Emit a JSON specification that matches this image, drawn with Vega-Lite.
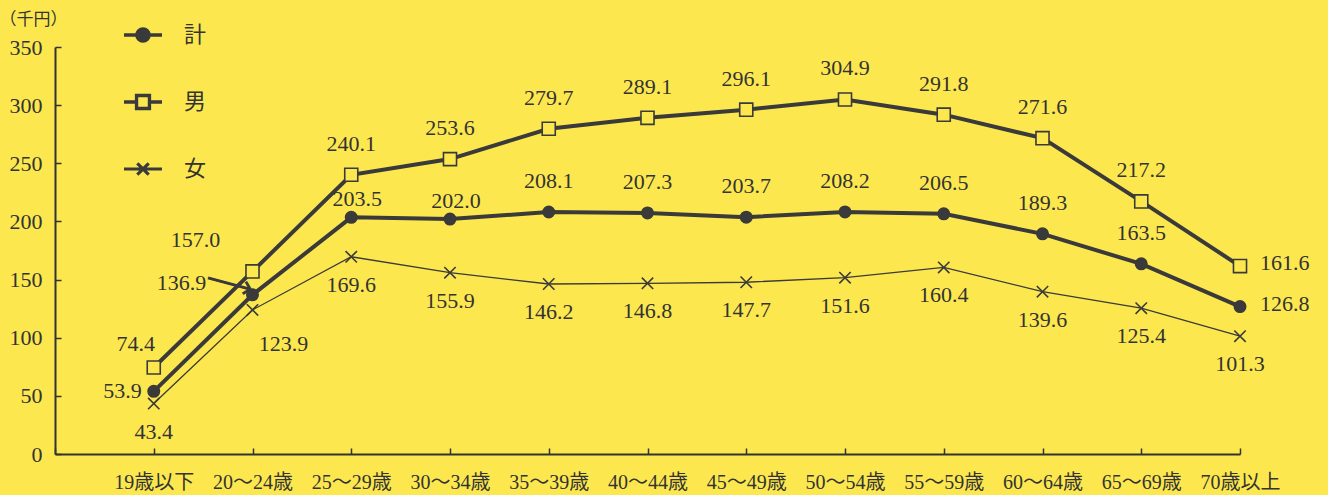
{
  "$schema": "https://vega.github.io/schema/vega-lite/v6.json",
  "width": 1185,
  "height": 407,
  "autosize": {"type": "none"},
  "padding": {"left": 55, "top": 47, "right": 88, "bottom": 41},
  "background": "#FCE84E",
  "config": {
    "view": {"stroke": null},
    "font": "Liberation Serif, Noto Sans CJK JP",
    "text": {"font": "Liberation Serif", "fontSize": 22, "color": "#333333", "baseline": "middle"}
  },
  "datasets": {
    "wages": [
      {"age": "19歳以下", "series": "計", "value": 53.9},
      {"age": "20～24歳", "series": "計", "value": 136.9},
      {"age": "25～29歳", "series": "計", "value": 203.5},
      {"age": "30～34歳", "series": "計", "value": 202.0},
      {"age": "35～39歳", "series": "計", "value": 208.1},
      {"age": "40～44歳", "series": "計", "value": 207.3},
      {"age": "45～49歳", "series": "計", "value": 203.7},
      {"age": "50～54歳", "series": "計", "value": 208.2},
      {"age": "55～59歳", "series": "計", "value": 206.5},
      {"age": "60～64歳", "series": "計", "value": 189.3},
      {"age": "65～69歳", "series": "計", "value": 163.5},
      {"age": "70歳以上", "series": "計", "value": 126.8},
      {"age": "19歳以下", "series": "男", "value": 74.4},
      {"age": "20～24歳", "series": "男", "value": 157.0},
      {"age": "25～29歳", "series": "男", "value": 240.1},
      {"age": "30～34歳", "series": "男", "value": 253.6},
      {"age": "35～39歳", "series": "男", "value": 279.7},
      {"age": "40～44歳", "series": "男", "value": 289.1},
      {"age": "45～49歳", "series": "男", "value": 296.1},
      {"age": "50～54歳", "series": "男", "value": 304.9},
      {"age": "55～59歳", "series": "男", "value": 291.8},
      {"age": "60～64歳", "series": "男", "value": 271.6},
      {"age": "65～69歳", "series": "男", "value": 217.2},
      {"age": "70歳以上", "series": "男", "value": 161.6},
      {"age": "19歳以下", "series": "女", "value": 43.4},
      {"age": "20～24歳", "series": "女", "value": 123.9},
      {"age": "25～29歳", "series": "女", "value": 169.6},
      {"age": "30～34歳", "series": "女", "value": 155.9},
      {"age": "35～39歳", "series": "女", "value": 146.2},
      {"age": "40～44歳", "series": "女", "value": 146.8},
      {"age": "45～49歳", "series": "女", "value": 147.7},
      {"age": "50～54歳", "series": "女", "value": 151.6},
      {"age": "55～59歳", "series": "女", "value": 160.4},
      {"age": "60～64歳", "series": "女", "value": 139.6},
      {"age": "65～69歳", "series": "女", "value": 125.4},
      {"age": "70歳以上", "series": "女", "value": 101.3}
    ]
  },
  "data": {"name": "wages"},
  "encoding": {
    "x": {
      "field": "age",
      "type": "nominal",
      "sort": null,
      "scale": {
        "type": "point",
        "padding": 0,
        "domain": ["", "19歳以下", "20～24歳", "25～29歳", "30～34歳", "35～39歳", "40～44歳", "45～49歳", "50～54歳", "55～59歳", "60～64歳", "65～69歳", "70歳以上"]
      },
      "axis": {
        "title": null,
        "grid": false,
        "labelAngle": 0,
        "labelFontSize": 20,
        "labelColor": "#333333",
        "labelPadding": 24,
        "domainColor": "#333333",
        "domainWidth": 2,
        "tickColor": "#333333",
        "tickWidth": 1.5,
        "tickSize": -6
      }
    },
    "y": {
      "field": "value",
      "type": "quantitative",
      "scale": {"domain": [0, 350], "nice": false},
      "axis": {
        "values": [0, 50, 100, 150, 200, 250, 300, 350],
        "grid": false,
        "title": "（千円）",
        "titleFont": "Noto Sans CJK JP",
        "titleFontSize": 17,
        "titleFontWeight": "normal",
        "titleColor": "#333333",
        "titleAngle": 0,
        "titleAlign": "left",
        "titleBaseline": "middle",
        "titleX": -56,
        "titleY": -28,
        "labelFontSize": 22,
        "labelColor": "#333333",
        "labelPadding": 19,
        "domainColor": "#333333",
        "domainWidth": 2,
        "tickColor": "#333333",
        "tickWidth": 1.5,
        "tickSize": -6
      }
    }
  },
  "layer": [
    {
      "mark": {"type": "line", "color": "#3a3a3a"},
      "encoding": {
        "detail": {"field": "series", "type": "nominal"},
        "strokeWidth": {
          "condition": {"test": "datum.series === '女'", "value": 1.3},
          "value": 4
        }
      }
    },
    {
      "mark": {"type": "point", "filled": true, "stroke": "#3a3a3a", "strokeWidth": 1.6, "opacity": 1},
      "encoding": {
        "shape": {
          "condition": [
            {"test": "datum.series === '計'", "value": "circle"},
            {"test": "datum.series === '男'", "value": "square"}
          ],
          "value": "M-1,-1L1,1M-1,1L1,-1"
        },
        "fill": {
          "condition": {"test": "datum.series === '計'", "value": "#3a3a3a"},
          "value": "#FCE84E"
        },
        "size": {
          "condition": {"test": "datum.series === '男'", "value": 170},
          "value": 130
        }
      }
    },
    {
      "description": "Key layer: carries the line-and-marker legend, the marks themselves stay hidden",
      "mark": {"type": "point", "filled": true, "stroke": "#3a3a3a", "opacity": 0},
      "encoding": {
        "shape": {
          "field": "series",
          "type": "nominal",
          "scale": {
            "domain": ["計", "男", "女"],
            "range": [
              "M-1,0H1M0.32,0A0.32,0.32,0,1,1,-0.32,0A0.32,0.32,0,1,1,0.32,0Z",
              "M-1,0H-0.34M0.34,0H1M-0.34,-0.34H0.34V0.34H-0.34Z",
              "M-1,0H1M-0.3,-0.3L0.3,0.3M-0.3,0.3L0.3,-0.3"
            ]
          },
          "legend": {
            "title": null, "orient": "none", "legendX": 67, "legendY": -33, "direction": "vertical",
            "padding": 0, "symbolSize": 1444, "symbolOpacity": 1, "rowPadding": 32,
            "labelFont": "Noto Sans CJK JP", "labelFontSize": 22, "labelColor": "#333333", "labelOffset": 20
          }
        },
        "fill": {
          "field": "series",
          "type": "nominal",
          "scale": {"domain": ["計", "男", "女"], "range": ["#3a3a3a", "#FCE84E", "#3a3a3a"]},
          "legend": {
            "title": null, "orient": "none", "legendX": 67, "legendY": -33, "direction": "vertical",
            "padding": 0, "symbolSize": 1444, "symbolOpacity": 1, "rowPadding": 32,
            "labelFont": "Noto Sans CJK JP", "labelFontSize": 22, "labelColor": "#333333", "labelOffset": 20
          }
        },
        "strokeWidth": {
          "field": "series",
          "type": "nominal",
          "scale": {"domain": ["計", "男", "女"], "range": [3.5, 3.2, 1.5]},
          "legend": {
            "title": null, "orient": "none", "legendX": 67, "legendY": -33, "direction": "vertical",
            "padding": 0, "symbolSize": 1444, "symbolOpacity": 1, "rowPadding": 32,
            "labelFont": "Noto Sans CJK JP", "labelFontSize": 22, "labelColor": "#333333", "labelOffset": 20
          }
        }
      }
    },
    {
      "transform": [{"filter": "(datum.series === '男' && indexof(['19歳以下', '20～24歳', '70歳以上'], datum.age) < 0) || (datum.series === '計' && indexof(['19歳以下', '20～24歳', '25～29歳', '30～34歳', '70歳以上'], datum.age) < 0)"}],
      "mark": {"type": "text", "dy": -31},
      "encoding": {"text": {"field": "value", "type": "quantitative", "format": ".1f"}}
    },
    {
      "transform": [{"filter": "datum.series === '計' && (datum.age === '25～29歳' || datum.age === '30～34歳')"}],
      "mark": {"type": "text", "dy": -18, "dx": 6},
      "encoding": {"text": {"field": "value", "type": "quantitative", "format": ".1f"}}
    },
    {
      "transform": [{"filter": "datum.series !== '女' && datum.age === '70歳以上'"}],
      "mark": {"type": "text", "align": "left", "dx": 20, "dy": -3},
      "encoding": {"text": {"field": "value", "type": "quantitative", "format": ".1f"}}
    },
    {
      "transform": [{"filter": "datum.series === '計' && datum.age === '19歳以下'"}],
      "mark": {"type": "text", "align": "right", "dx": -12, "dy": 0},
      "encoding": {"text": {"field": "value", "type": "quantitative", "format": ".1f"}}
    },
    {
      "transform": [{"filter": "datum.series === '男' && datum.age === '19歳以下'"}],
      "mark": {"type": "text", "dx": -18, "dy": -23},
      "encoding": {"text": {"field": "value", "type": "quantitative", "format": ".1f"}}
    },
    {
      "transform": [{"filter": "datum.series === '男' && datum.age === '20～24歳'"}],
      "mark": {"type": "text", "dx": -57, "dy": -31},
      "encoding": {"text": {"field": "value", "type": "quantitative", "format": ".1f"}}
    },
    {
      "transform": [{"filter": "datum.series === '計' && datum.age === '20～24歳'"}],
      "mark": {"type": "text", "dx": -71, "dy": -12},
      "encoding": {"text": {"field": "value", "type": "quantitative", "format": ".1f"}}
    },
    {
      "transform": [{"filter": "datum.series === '計' && datum.age === '20～24歳'"}],
      "mark": {"type": "text", "text": "⟶", "font": "DejaVu Sans", "fontSize": 34, "angle": 15, "dx": -25, "dy": -4, "align": "center", "color": "#3a3a3a"},
      "encoding": {}
    },
    {
      "transform": [{"filter": "datum.series === '女' && datum.age !== '20～24歳'"}],
      "mark": {"type": "text", "dy": 28},
      "encoding": {"text": {"field": "value", "type": "quantitative", "format": ".1f"}}
    },
    {
      "transform": [{"filter": "datum.series === '女' && datum.age === '20～24歳'"}],
      "mark": {"type": "text", "dx": 31, "dy": 34},
      "encoding": {"text": {"field": "value", "type": "quantitative", "format": ".1f"}}
    }
  ]
}
